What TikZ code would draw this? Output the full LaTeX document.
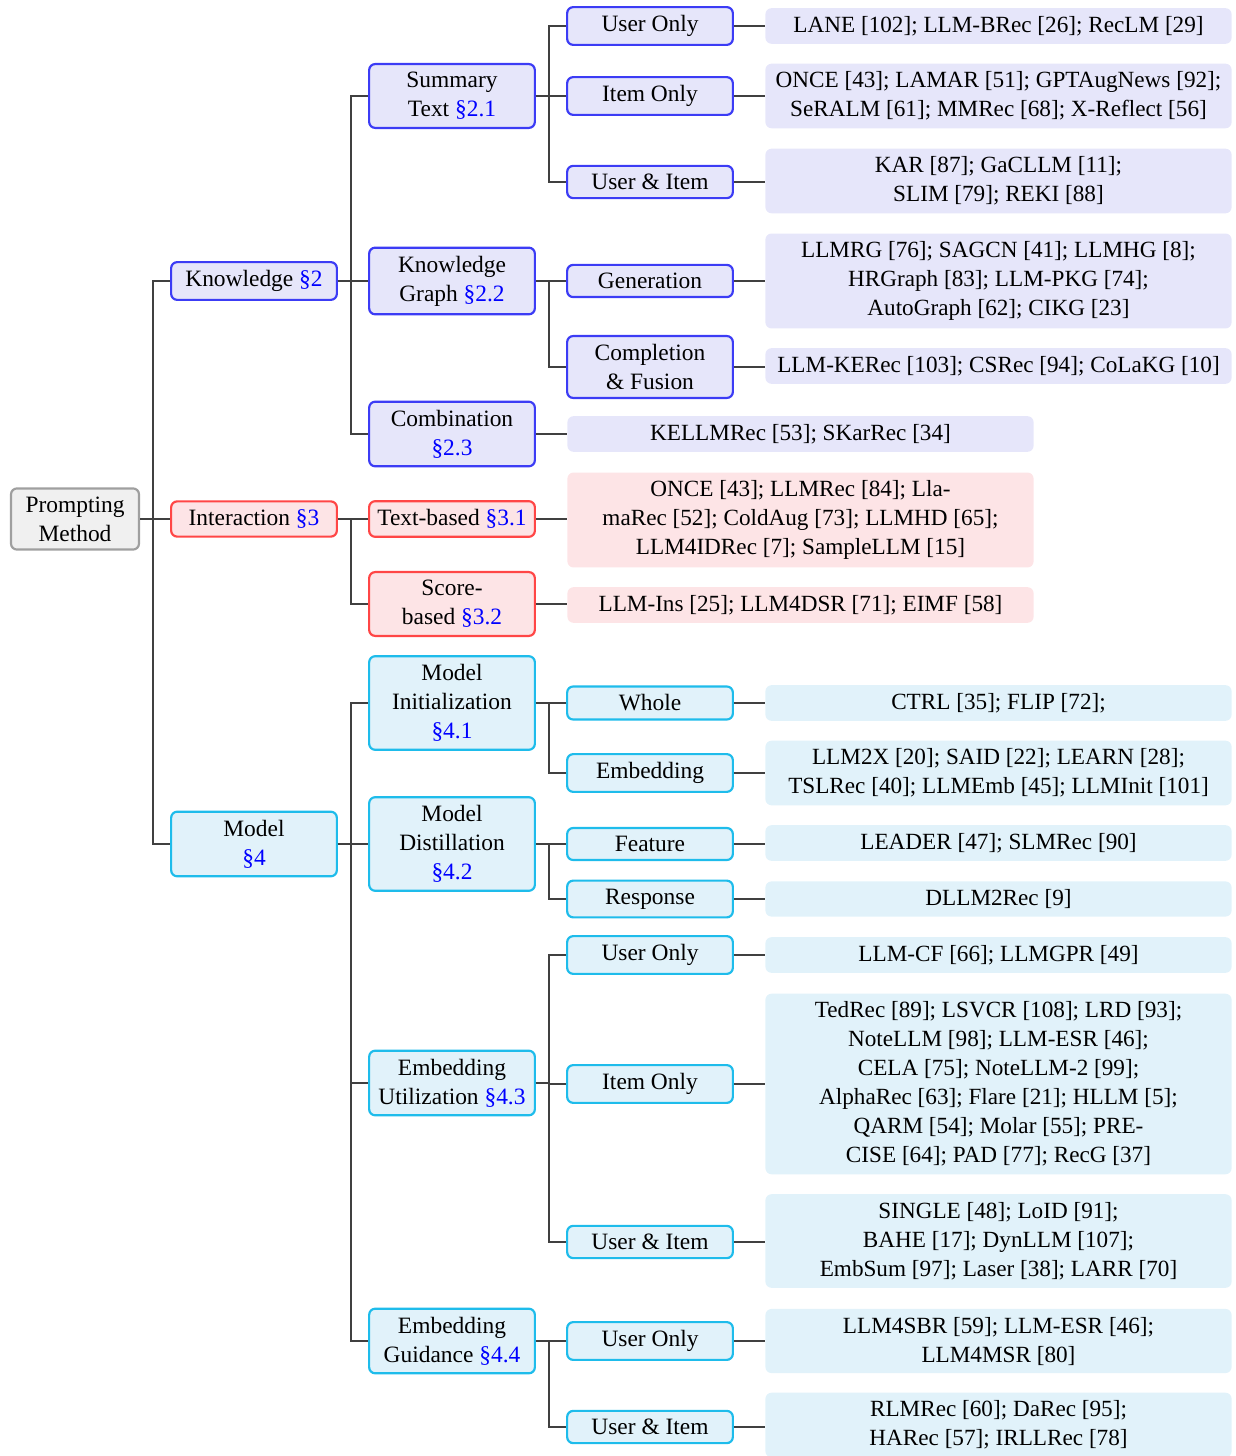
\documentclass[tikz,border=0pt]{standalone}
\usepackage{fontspec}
\setmainfont{Liberation Serif}
\usetikzlibrary{calc}
\definecolor{knowline}{HTML}{3C3CF5}
\definecolor{knowfill}{HTML}{E6E6FA}
\definecolor{interline}{HTML}{FF4646}
\definecolor{interfill}{HTML}{FDE4E6}
\definecolor{modelline}{HTML}{1EBCEB}
\definecolor{modelfill}{HTML}{E1F2FA}
\newcommand{\secref}[1]{\textcolor{blue}{\S#1}}
\tikzset{
  basebox/.style={rounded corners=2.5pt, line width=0.9pt, align=center, inner ysep=3.4pt, minimum width=68.6pt, font=\fontsize{9.7}{12}\selectfont},
  rootbox/.style={basebox, draw=gray!75, fill=gray!12, minimum width=53pt},
  knowbox/.style={basebox, draw=knowline, fill=knowfill},
  interbox/.style={basebox, draw=interline, fill=interfill},
  modelbox/.style={basebox, draw=modelline, fill=modelfill},
  leafbox/.style={rounded corners=2.5pt, align=center, inner ysep=3.3pt, inner xsep=2pt, minimum width=193pt, font=\fontsize{9.6}{12}\selectfont},
  smallleaf/.style={leafbox},
  conn/.style={draw=black!75, line width=0.5pt}
}
\begin{document}
\begin{tikzpicture}[x=0.414pt, y=-0.414pt]
\useasboundingbox (0,0) rectangle (1235,1456);
% root and first level
\node[rootbox] (root) at (75,519) {Prompting\\Method};
\node[knowbox] (know) at (254,281) {Knowledge \secref{2}};
\node[interbox] (inter) at (254,519) {Interaction \secref{3}};
\node[modelbox] (model) at (254,844) {Model\\\secref{4}};

% second level
\node[knowbox] (sumtext) at (452,96) {Summary\\Text \secref{2.1}};
\node[knowbox] (kgraph) at (452,281) {Knowledge\\Graph \secref{2.2}};
\node[knowbox] (combi) at (452,434) {Combination\\\secref{2.3}};
\node[interbox] (textb) at (452,519) {Text-based \secref{3.1}};
\node[interbox] (scoreb) at (452,604) {Score-\\based \secref{3.2}};
\node[modelbox] (minit) at (452,703) {Model\\Initialization\\\secref{4.1}};
\node[modelbox] (mdist) at (452,844) {Model\\Distillation\\\secref{4.2}};
\node[modelbox] (embu) at (452,1083) {Embedding\\Utilization \secref{4.3}};
\node[modelbox] (embg) at (452,1341) {Embedding\\Guidance \secref{4.4}};

% third level
\node[knowbox] (stuser) at (650,26) {User Only};
\node[knowbox] (stitem) at (650,96) {Item Only};
\node[knowbox] (stboth) at (650,182) {User \& Item};
\node[knowbox] (kggen) at (650,281) {Generation};
\node[knowbox] (kgfus) at (650,367) {Completion\\\& Fusion};
\node[modelbox] (miwhole) at (650,703) {Whole};
\node[modelbox] (miemb) at (650,773) {Embedding};
\node[modelbox] (mdfeat) at (650,844) {Feature};
\node[modelbox] (mdresp) at (650,899) {Response};
\node[modelbox] (euuser) at (650,955) {User Only};
\node[modelbox] (euitem) at (650,1084) {Item Only};
\node[modelbox] (euboth) at (650,1242) {User \& Item};
\node[modelbox] (eguser) at (650,1341) {User Only};
\node[modelbox] (egboth) at (650,1427) {User \& Item};

% leaves
\node[leafbox, fill=knowfill] (lfstuser) at (998.5,26) {LANE [102]; LLM-BRec [26]; RecLM [29]};
\node[leafbox, fill=knowfill] (lfstitem) at (998.5,96) {ONCE [43]; LAMAR [51]; GPTAugNews [92];\\SeRALM [61]; MMRec [68]; X-Reflect [56]};
\node[leafbox, fill=knowfill] (lfstboth) at (998.5,181) {KAR [87]; GaCLLM [11];\\SLIM [79]; REKI [88]};
\node[leafbox, fill=knowfill] (lfkggen) at (998.5,281) {LLMRG [76]; SAGCN [41]; LLMHG [8];\\HRGraph [83]; LLM-PKG [74];\\AutoGraph [62]; CIKG [23]};
\node[leafbox, fill=knowfill] (lfkgfus) at (998.5,366) {LLM-KERec [103]; CSRec [94]; CoLaKG [10]};
\node[smallleaf, fill=knowfill] (lfcombi) at (800.5,434) {KELLMRec [53]; SKarRec [34]};
\node[smallleaf, fill=interfill] (lftextb) at (800.5,520) {ONCE [43]; LLMRec [84]; Lla-\\maRec [52]; ColdAug [73]; LLMHD [65];\\LLM4IDRec [7]; SampleLLM [15]};
\node[smallleaf, fill=interfill] (lfscoreb) at (800.5,605) {LLM-Ins [25]; LLM4DSR [71]; EIMF [58]};
\node[leafbox, fill=modelfill] (lfmiwhole) at (998.5,703) {CTRL [35]; FLIP [72];};
\node[leafbox, fill=modelfill] (lfmiemb) at (998.5,773) {LLM2X [20]; SAID [22]; LEARN [28];\\TSLRec [40]; LLMEmb [45]; LLMInit [101]};
\node[leafbox, fill=modelfill] (lfmdfeat) at (998.5,843) {LEADER [47]; SLMRec [90]};
\node[leafbox, fill=modelfill] (lfmdresp) at (998.5,899) {DLLM2Rec [9]};
\node[leafbox, fill=modelfill] (lfeuuser) at (998.5,955) {LLM-CF [66]; LLMGPR [49]};
\node[leafbox, fill=modelfill] (lfeuitem) at (998.5,1084) {TedRec [89]; LSVCR [108]; LRD [93];\\NoteLLM [98]; LLM-ESR [46];\\CELA [75]; NoteLLM-2 [99];\\AlphaRec [63]; Flare [21]; HLLM [5];\\QARM [54]; Molar [55]; PRE-\\CISE [64]; PAD [77]; RecG [37]};
\node[leafbox, fill=modelfill] (lfeuboth) at (998.5,1241) {SINGLE [48]; LoID [91];\\BAHE [17]; DynLLM [107];\\EmbSum [97]; Laser [38]; LARR [70]};
\node[leafbox, fill=modelfill] (lfeguser) at (998.5,1341) {LLM4SBR [59]; LLM-ESR [46];\\LLM4MSR [80]};
\node[leafbox, fill=modelfill] (lfegboth) at (998.5,1425) {RLMRec [60]; DaRec [95];\\HARec [57]; IRLLRec [78]};

% connectors
\draw[conn] (root.east) -- ++(13,0) |- (know.west);
\draw[conn] (root.east) -- ++(13,0) |- (inter.west);
\draw[conn] (root.east) -- ++(13,0) |- (model.west);
\draw[conn] (know.east) -- ++(13,0) |- (sumtext.west);
\draw[conn] (know.east) -- ++(13,0) |- (kgraph.west);
\draw[conn] (know.east) -- ++(13,0) |- (combi.west);
\draw[conn] (inter.east) -- ++(13,0) |- (textb.west);
\draw[conn] (inter.east) -- ++(13,0) |- (scoreb.west);
\draw[conn] (model.east) -- ++(13,0) |- (minit.west);
\draw[conn] (model.east) -- ++(13,0) |- (mdist.west);
\draw[conn] (model.east) -- ++(13,0) |- (embu.west);
\draw[conn] (model.east) -- ++(13,0) |- (embg.west);
\draw[conn] (sumtext.east) -- ++(13,0) |- (stuser.west);
\draw[conn] (sumtext.east) -- ++(13,0) |- (stitem.west);
\draw[conn] (sumtext.east) -- ++(13,0) |- (stboth.west);
\draw[conn] (kgraph.east) -- ++(13,0) |- (kggen.west);
\draw[conn] (kgraph.east) -- ++(13,0) |- (kgfus.west);
\draw[conn] (minit.east) -- ++(13,0) |- (miwhole.west);
\draw[conn] (minit.east) -- ++(13,0) |- (miemb.west);
\draw[conn] (mdist.east) -- ++(13,0) |- (mdfeat.west);
\draw[conn] (mdist.east) -- ++(13,0) |- (mdresp.west);
\draw[conn] (embu.east) -- ++(13,0) |- (euuser.west);
\draw[conn] (embu.east) -- ++(13,0) |- (euitem.west);
\draw[conn] (embu.east) -- ++(13,0) |- (euboth.west);
\draw[conn] (embg.east) -- ++(13,0) |- (eguser.west);
\draw[conn] (embg.east) -- ++(13,0) |- (egboth.west);
\draw[conn] (combi.east) -- (combi.east -| lfcombi.west);
\draw[conn] (textb.east) -- (textb.east -| lftextb.west);
\draw[conn] (scoreb.east) -- (scoreb.east -| lfscoreb.west);
\draw[conn] (stuser.east) -- (stuser.east -| lfstuser.west);
\draw[conn] (stitem.east) -- (stitem.east -| lfstitem.west);
\draw[conn] (stboth.east) -- (stboth.east -| lfstboth.west);
\draw[conn] (kggen.east) -- (kggen.east -| lfkggen.west);
\draw[conn] (kgfus.east) -- (kgfus.east -| lfkgfus.west);
\draw[conn] (miwhole.east) -- (miwhole.east -| lfmiwhole.west);
\draw[conn] (miemb.east) -- (miemb.east -| lfmiemb.west);
\draw[conn] (mdfeat.east) -- (mdfeat.east -| lfmdfeat.west);
\draw[conn] (mdresp.east) -- (mdresp.east -| lfmdresp.west);
\draw[conn] (euuser.east) -- (euuser.east -| lfeuuser.west);
\draw[conn] (euitem.east) -- (euitem.east -| lfeuitem.west);
\draw[conn] (euboth.east) -- (euboth.east -| lfeuboth.west);
\draw[conn] (eguser.east) -- (eguser.east -| lfeguser.west);
\draw[conn] (egboth.east) -- (egboth.east -| lfegboth.west);
\end{tikzpicture}
\end{document}
